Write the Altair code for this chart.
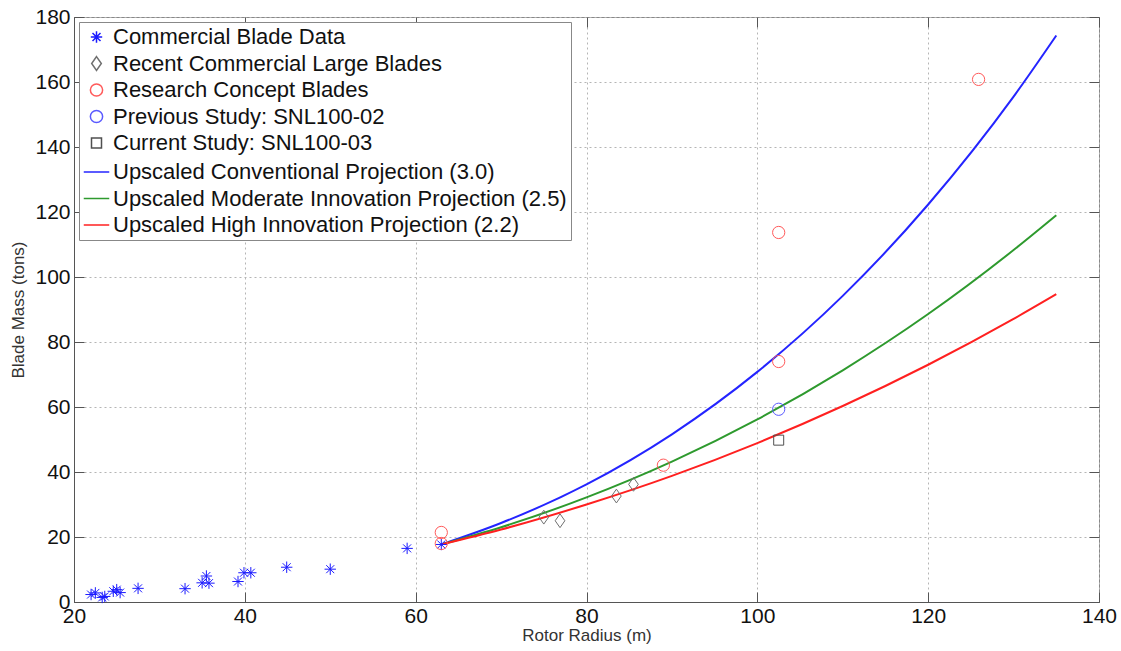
import altair as alt
import pandas as pd

# ---------------- data ----------------
commercial_x = [22.0, 22.5, 23.3, 23.6, 24.6, 25.0, 25.4, 27.5, 33.0, 35.0, 35.5, 35.8,
                39.2, 39.9, 40.7, 44.9, 50.0, 59.0, 63.0]
commercial_y = [2.3, 2.8, 1.4, 1.7, 3.3, 3.8, 2.9, 4.2, 4.1, 5.9, 8.0, 5.8,
                6.3, 9.0, 9.0, 10.7, 10.1, 16.5, 17.7]
large_x = [75.0, 76.9, 83.5, 85.5]
large_y = [26.1, 25.0, 32.6, 36.2]
research_x = [63.0, 63.0, 89.0, 102.5, 102.5, 125.9]
research_y = [21.4, 18.0, 42.1, 113.7, 74.0, 160.8]
previous_x = [102.5]
previous_y = [59.3]
current_x = [102.5]
current_y = [49.8]

proj_x = [63, 70, 80, 90, 100, 110, 120, 130, 135]
conventional_y = [17.7, 24.3, 36.2, 51.6, 70.8, 94.2, 122.3, 155.5, 174.3]
moderate_y = [17.7, 23.0, 32.2, 43.2, 56.2, 71.3, 88.6, 108.3, 119.0]
high_y = [17.7, 22.3, 30.0, 38.8, 48.9, 60.3, 73.0, 87.1, 94.7]

x_ticks = [20, 40, 60, 80, 100, 120, 140]
y_ticks = [0, 20, 40, 60, 80, 100, 120, 140, 160, 180]

series = [
    "Commercial Blade Data",
    "Recent Commercial Large Blades",
    "Research Concept Blades",
    "Previous Study: SNL100-02",
    "Current Study: SNL100-03",
    "Upscaled Conventional Projection (3.0)",
    "Upscaled Moderate Innovation Projection (2.5)",
    "Upscaled High Innovation Projection (2.2)",
]
colors = ["#1a1aff", "#707070", "#ff5a5a", "#5a5aff", "#505050",
          "#2424ff", "#2e9a2e", "#ff2020"]
ASTERISK = "M-1,0L1,0M0,-1L0,1M-0.7,-0.7L0.7,0.7M-0.7,0.7L0.7,-0.7"
DIAMOND = "M0,-1L0.7,0L0,1L-0.7,0Z"
shapes = [ASTERISK, DIAMOND, "circle", "circle", "square", "stroke", "stroke", "stroke"]
sizes = [130, 190, 150, 150, 100, 650, 650, 650]

# ---------------- tables ----------------
pts = pd.concat([
    pd.DataFrame({"x": commercial_x, "y": commercial_y, "series": series[0]}),
    pd.DataFrame({"x": large_x, "y": large_y, "series": series[1]}),
    pd.DataFrame({"x": research_x, "y": research_y, "series": series[2]}),
    pd.DataFrame({"x": previous_x, "y": previous_y, "series": series[3]}),
    pd.DataFrame({"x": current_x, "y": current_y, "series": series[4]}),
], ignore_index=True)

lines = pd.concat([
    pd.DataFrame({"x": proj_x, "y": conventional_y, "series": series[5]}),
    pd.DataFrame({"x": proj_x, "y": moderate_y, "series": series[6]}),
    pd.DataFrame({"x": proj_x, "y": high_y, "series": series[7]}),
], ignore_index=True)

FONT = "Liberation Sans"

xscale = alt.Scale(domain=[20, 140], nice=False)
yscale = alt.Scale(domain=[0, 180], nice=False)
common = dict(gridDash=[2, 3], gridColor="#b5b5b5", ticks=False,
              labelFontSize=21, titleFontSize=17,
              domainColor="#555555", labelColor="#111111", titleColor="#333333",
              labelFont=FONT, titleFont=FONT, titleFontWeight="normal",
              labelFlush=False, labelOverlap=False)
xaxis = alt.Axis(values=x_ticks, title="Rotor Radius (m)", grid=True,
                 labelPadding=3, titlePadding=1, **common)
yaxis = alt.Axis(values=y_ticks, title="Blade Mass (tons)", grid=True,
                 labelPadding=4, titlePadding=7, **common)


def tick_axis(values, orient):
    # inward MATLAB-style ticks: an axis pushed 10px inside, ticks pointing back to the frame
    return alt.Axis(values=values, orient=orient, offset=-10, tickSize=10, ticks=True,
                    tickColor="#555555", tickWidth=1, labels=False, domain=False,
                    grid=False, title=None)


legend = alt.Legend(orient="none", legendX=5, legendY=5, padding=4,
                    strokeColor="#888888", fillColor="white",
                    labelFontSize=22, labelFont=FONT, labelColor="#111111",
                    labelLimit=1000, rowPadding=1.5, labelOffset=3, gridAlign="all",
                    symbolStrokeWidth=1.5, symbolOpacity=1)

cscale = alt.Scale(domain=series, range=colors)
sscale = alt.Scale(domain=series, range=shapes)
zscale = alt.Scale(type="ordinal", domain=series, range=sizes)

line_layer = alt.Chart(lines).mark_line(strokeWidth=2, interpolate="monotone").encode(
    x=alt.X("x:Q", scale=xscale, axis=xaxis),
    y=alt.Y("y:Q", scale=yscale, axis=yaxis),
    color=alt.Color("series:N", scale=cscale, legend=legend, title=None),
)

point_layer = alt.Chart(pts).mark_point(filled=False, strokeWidth=1, opacity=1).encode(
    x=alt.X("x:Q", scale=xscale, axis=None),
    y=alt.Y("y:Q", scale=yscale, axis=None),
    color=alt.Color("series:N", scale=cscale, legend=legend, title=None),
    shape=alt.Shape("series:N", scale=sscale, legend=legend, title=None),
    size=alt.Size("series:N", scale=zscale, legend=legend, title=None),
)

ticks_a = alt.Chart(lines).mark_line(opacity=0).encode(
    x=alt.X("x:Q", scale=xscale, axis=tick_axis(x_ticks, "bottom")),
    y=alt.Y("y:Q", scale=yscale, axis=tick_axis(y_ticks, "left")),
    detail="series:N",
)
ticks_b = alt.Chart(lines).mark_line(opacity=0).encode(
    x=alt.X("x:Q", scale=xscale, axis=tick_axis(x_ticks, "top")),
    y=alt.Y("y:Q", scale=yscale, axis=tick_axis(y_ticks, "right")),
    detail="series:N",
)

chart = alt.layer(line_layer, point_layer, ticks_a, ticks_b).resolve_axis(
    x="independent", y="independent"
).properties(
    width=1025, height=585,
    padding={"left": 74, "top": 17, "right": 22, "bottom": 49},
    autosize=alt.AutoSizeParams(type="none"),
    background="white",
).configure_view(stroke="#888888", strokeWidth=1)

chart.save("out.html", embed_options={"renderer": "svg", "actions": False})
